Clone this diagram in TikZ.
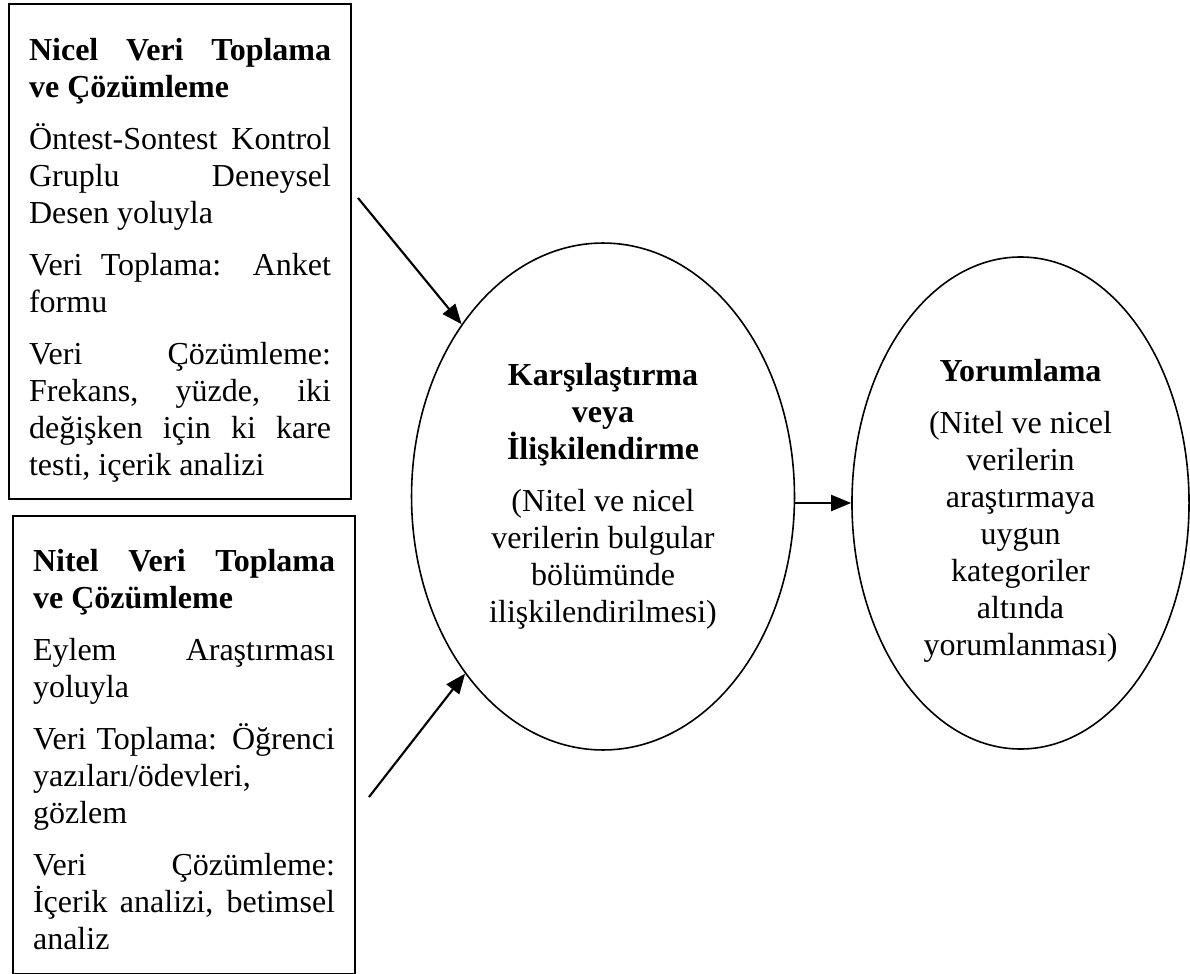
\documentclass[tikz,border=0pt]{standalone}
\usepackage{fontspec}
\setmainfont{Liberation Serif}
\usetikzlibrary{shapes.geometric,arrows.meta}
\hbadness=10000
\newcommand{\ara}{\par\vspace{5.625pt}}

\begin{document}
\begin{tikzpicture}[x=0.375pt, y=-0.375pt,
    kutu/.style={draw, thick, rectangle, anchor=north west, inner xsep=7.5pt, inner ysep=0pt,
      text width=113.25pt, align=justify, font=\fontsize{12}{13.875}\selectfont},
    elips/.style={draw, semithick, ellipse, inner sep=0pt, align=center,
      font=\fontsize{12}{13.875}\selectfont},
    ok/.style={thick, -{Triangle[length=7.5pt,width=6pt]}}]
    \useasboundingbox (0,0) rectangle (1190,973);

    % Kutular
    \node[kutu] (nicel) at (8,3) {\rule{0pt}{21pt}\textbf{Nicel Veri Toplama\linebreak ve Çözümleme}\ara
      Öntest-Sontest Kontrol\linebreak Gruplu Deneysel\linebreak Desen yoluyla\ara
      Veri Toplama: Anket\linebreak formu\ara
      Veri Çözümleme:\linebreak Frekans, yüzde, iki\linebreak değişken için ki kare\linebreak testi, içerik analizi\rule[-9pt]{0pt}{9pt}};
    \node[kutu] (nitel) at (12,515) {\rule{0pt}{20.6pt}\textbf{Nitel Veri Toplama\linebreak ve Çözümleme}\ara
      Eylem Araştırması\linebreak yoluyla\ara
      Veri Toplama: Öğrenci\linebreak yazıları/ödevleri,\linebreak gözlem\ara
      Veri Çözümleme:\linebreak İçerik analizi, betimsel\linebreak analiz\rule[-9.4pt]{0pt}{9.4pt}};

    % Elipsler
    \node[elips, minimum width=143.6pt, minimum height=190.1pt] (karsi) at (603,496.5)
      {\textbf{Karşılaştırma}\\\textbf{veya}\\\textbf{İlişkilendirme}\\[5.625pt](Nitel ve nicel\\verilerin bulgular\\bölümünde\\ilişkilendirilmesi)};
    \node[elips, minimum width=126.4pt, minimum height=184.5pt] (yorum) at (1020.5,503)
      {\rule{0pt}{14pt}\textbf{Yorumlama}\\[5.625pt](Nitel ve nicel\\verilerin\\araştırmaya\\uygun\\kategoriler\\altında\\yorumlanması)};

    % Oklar
    \coordinate (u1) at (358,198);
    \coordinate (u2) at (369,797);
    \draw[ok] (u1) -- (karsi);
    \draw[ok] (u2) -- (karsi);
    \draw[ok] (karsi.east |- yorum.west) -- (yorum.west);

\end{tikzpicture}
\end{document}
